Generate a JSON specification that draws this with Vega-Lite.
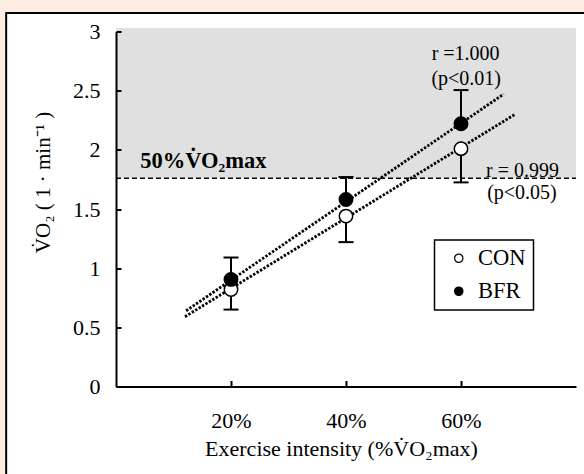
{
  "$schema": "https://vega.github.io/schema/vega-lite/v6.json",
  "width": 460,
  "height": 355,
  "autosize": "none",
  "padding": {"left": 116, "top": 31.5, "right": 8, "bottom": 87.5},
  "background": "#FDECE1",
  "config": {
    "view": {"stroke": null},
    "font": "Liberation Serif",
    "axis": {
      "grid": false,
      "domainColor": "black",
      "domainWidth": 2,
      "tickColor": "black",
      "tickWidth": 2,
      "labelColor": "black",
      "titleColor": "black",
      "labelFont": "Liberation Serif",
      "titleFont": "Liberation Serif",
      "labelFontSize": 22,
      "titleFontSize": 22,
      "titleFontWeight": "normal"
    },
    "legend": {
      "orient": "none",
      "legendX": 318.5,
      "legendY": 208.5,
      "padding": 7,
      "strokeColor": "black",
      "strokeWidth": 1.5,
      "fillColor": "white",
      "labelFont": "Liberation Serif",
      "labelFontSize": 22.5,
      "labelColor": "black",
      "symbolType": "circle",
      "symbolSize": 70,
      "symbolStrokeColor": "black",
      "symbolStrokeWidth": 1.2,
      "rowPadding": 10,
      "labelOffset": 8,
      "symbolOffset": 6
    }
  },
  "datasets": {
    "points": [
      {"x": 20, "group": "CON", "mean": 0.82, "end": 0.65},
      {"x": 40, "group": "CON", "mean": 1.44, "end": 1.22},
      {"x": 60, "group": "CON", "mean": 2.01, "end": 1.725},
      {"x": 20, "group": "BFR", "mean": 0.905, "end": 1.09},
      {"x": 40, "group": "BFR", "mean": 1.58, "end": 1.77},
      {"x": 60, "group": "BFR", "mean": 2.22, "end": 2.505}
    ],
    "trend": [
      {"group": "BFR", "x": 12.2, "y": 0.64},
      {"group": "BFR", "x": 67.4, "y": 2.47},
      {"group": "CON", "x": 12.0, "y": 0.59},
      {"group": "CON", "x": 69.4, "y": 2.30}
    ],
    "notes": [
      {"label": "r =1.000", "x": 60.8, "y": 2.759},
      {"label": "(p<0.01)", "x": 60.9, "y": 2.552},
      {"label": "r = 0.999", "x": 70.7, "y": 1.773},
      {"label": "(p<0.05)", "x": 70.6, "y": 1.585}
    ],
    "headline": [
      {"label": "50%V̇O₂max", "x": 4.2, "y": 1.85}
    ],
    "threshold": [
      {"x": 0, "x2": 80, "y": 1.76, "top": 3.03}
    ],
    "frame": [
      {"x": -19.1, "x2": 100, "y": 3.156, "y2": -2}
    ]
  },
  "layer": [
    {
      "data": {"name": "frame"},
      "mark": {"type": "rect", "fill": "white", "stroke": "black", "strokeWidth": 2, "clip": false},
      "encoding": {
        "x": {"field": "x", "type": "quantitative", "scale": {"domain": [0, 80], "nice": false, "zero": false}},
        "x2": {"field": "x2"},
        "y": {"field": "y", "type": "quantitative", "scale": {"domain": [0, 3], "nice": false, "zero": false}},
        "y2": {"field": "y2"}
      }
    },
    {
      "data": {"name": "threshold"},
      "mark": {"type": "rect", "fill": "#E0E0E0"},
      "encoding": {
        "x": {"field": "x", "type": "quantitative", "scale": {"domain": [0, 80], "nice": false, "zero": false}},
        "x2": {"field": "x2"},
        "y": {"field": "y", "type": "quantitative", "scale": {"domain": [0, 3], "nice": false, "zero": false}},
        "y2": {"field": "top"}
      }
    },
    {
      "data": {"name": "threshold"},
      "mark": {"type": "rule", "color": "black", "strokeWidth": 1.5, "strokeDash": [5, 3]},
      "encoding": {
        "x": {"field": "x", "type": "quantitative", "scale": {"domain": [0, 80], "nice": false, "zero": false}},
        "x2": {"field": "x2"},
        "y": {"field": "y", "type": "quantitative", "scale": {"domain": [0, 3], "nice": false, "zero": false}}
      }
    },
    {
      "data": {"name": "trend"},
      "mark": {"type": "line", "color": "black", "strokeWidth": 2.8, "strokeDash": [2.4, 1.6]},
      "encoding": {
        "x": {"field": "x", "type": "quantitative", "scale": {"domain": [0, 80], "nice": false, "zero": false}},
        "y": {"field": "y", "type": "quantitative", "scale": {"domain": [0, 3], "nice": false, "zero": false}},
        "detail": {"field": "group"}
      }
    },
    {
      "data": {"name": "points"},
      "mark": {"type": "rule", "color": "black", "strokeWidth": 2},
      "encoding": {
        "x": {"field": "x", "type": "quantitative", "scale": {"domain": [0, 80], "nice": false, "zero": false}},
        "y": {"field": "mean", "type": "quantitative", "scale": {"domain": [0, 3], "nice": false, "zero": false}},
        "y2": {"field": "end"}
      }
    },
    {
      "data": {"name": "points"},
      "mark": {"type": "tick", "orient": "horizontal", "color": "black", "thickness": 2, "size": 15, "opacity": 1},
      "encoding": {
        "x": {"field": "x", "type": "quantitative", "scale": {"domain": [0, 80], "nice": false, "zero": false}},
        "y": {"field": "end", "type": "quantitative", "scale": {"domain": [0, 3], "nice": false, "zero": false}}
      }
    },
    {
      "data": {"name": "points"},
      "mark": {"type": "point", "shape": "circle", "filled": true, "size": 180, "stroke": "black", "strokeWidth": 1.5, "opacity": 1},
      "encoding": {
        "x": {
          "field": "x", "type": "quantitative",
          "scale": {"domain": [0, 80], "nice": false, "zero": false},
          "axis": {
            "zindex": 1,
            "values": [20, 40, 60],
            "labelExpr": "datum.value + '%'",
            "tickSize": -6,
            "labelPadding": 30,
            "title": "Exercise intensity (%V̇O₂max)",
            "titleX": 225,
            "titleY": 69,
            "titleBaseline": "alphabetic",
            "titleAlign": "center"
          }
        },
        "y": {
          "field": "mean", "type": "quantitative",
          "scale": {"domain": [0, 3], "nice": false, "zero": false},
          "axis": {
            "zindex": 1,
            "values": [0, 0.5, 1, 1.5, 2, 2.5, 3],
            "format": "~g",
            "tickSize": -5,
            "labelPadding": 21,
            "title": "V̇O₂ ( 1 · min⁻¹ )",
            "titleFontSize": 21,
            "titleX": -73,
            "titleY": 150.5,
            "titleAngle": 270,
            "titleBaseline": "middle",
            "titleAlign": "center"
          }
        },
        "fill": {
          "field": "group", "type": "nominal",
          "scale": {"domain": ["CON", "BFR"], "range": ["white", "black"]},
          "legend": {"title": null}
        }
      }
    },
    {
      "data": {"name": "notes"},
      "mark": {"type": "text", "font": "Liberation Serif", "fontSize": 20, "color": "black", "align": "center", "baseline": "alphabetic"},
      "encoding": {
        "x": {"field": "x", "type": "quantitative", "scale": {"domain": [0, 80], "nice": false, "zero": false}},
        "y": {"field": "y", "type": "quantitative", "scale": {"domain": [0, 3], "nice": false, "zero": false}},
        "text": {"field": "label"}
      }
    },
    {
      "data": {"name": "headline"},
      "mark": {"type": "text", "font": "Liberation Serif", "fontSize": 22.5, "fontWeight": "bold", "color": "black", "align": "left", "baseline": "alphabetic"},
      "encoding": {
        "x": {"field": "x", "type": "quantitative", "scale": {"domain": [0, 80], "nice": false, "zero": false}},
        "y": {"field": "y", "type": "quantitative", "scale": {"domain": [0, 3], "nice": false, "zero": false}},
        "text": {"field": "label"}
      }
    }
  ]
}
